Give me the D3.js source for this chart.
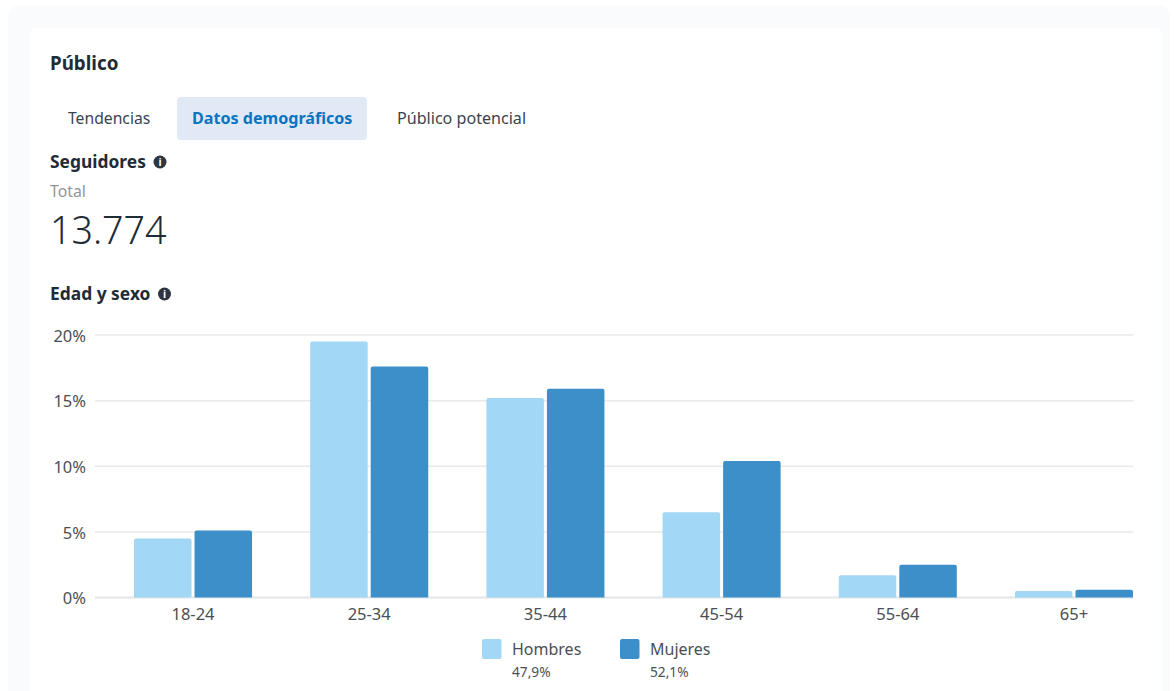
<!DOCTYPE html>
<html lang="es">
<head>
<meta charset="utf-8">
<title>Público</title>
<script src="https://cdn.jsdelivr.net/npm/d3@7"></script>
<style>
  html, body { margin: 0; padding: 0; background: #fff; }
  svg { display: block; font-family: "Noto Sans", "Open Sans", sans-serif; }
  .axis path, .axis line { display: none; }
  .axis text { font-size: 16.5px; fill: #4a4f54; font-family: "Noto Sans", sans-serif; }
</style>
</head>
<body>
<svg id="chart" width="1174" height="691"></svg>
<script>
// Age brackets and follower share per sex, in percent
const ageGroups = ["18-24", "25-34", "35-44", "45-54", "55-64", "65+"];
const menShare = [4.5, 19.5, 15.2, 6.5, 1.7, 0.5];
const womenShare = [5.1, 17.6, 15.9, 10.4, 2.5, 0.6];
const yTicks = [0, 5, 10, 15, 20];
const seriesNames = ["Hombres", "Mujeres"];
const seriesTotals = ["47,9%", "52,1%"];
const seriesColors = ["#a2d8f6", "#3c8fc8"];
const tabLabels = ["Tendencias", "Datos demográficos", "Público potencial"];
const totalFollowers = "13.774";

const svg = d3.select("#chart");

// Page backdrop and card
svg.append("rect").attr("x", 8).attr("y", 5).attr("width", 1162).attr("height", 700).attr("rx", 12).attr("fill", "#fafbfd");
svg.append("rect").attr("x", 30).attr("y", 28).attr("width", 1132).attr("height", 680).attr("rx", 5).attr("fill", "#fff");

const ink = "#1f2b36";
const addText = (x, y, str, size, weight, fill, anchor) => svg.append("text")
  .attr("x", x).attr("y", y).attr("font-size", size).attr("font-weight", weight)
  .attr("fill", fill).attr("text-anchor", anchor || "start").text(str);

// Small filled circle with an "i" cut in white
function infoIcon(cx, cy) {
  svg.append("circle").attr("cx", cx).attr("cy", cy).attr("r", 6.5).attr("fill", "#2b3640");
  svg.append("text").attr("x", cx).attr("y", cy + 4).attr("text-anchor", "middle")
    .attr("font-size", 10.5).attr("font-weight", 700).attr("fill", "#fff").text("i");
}

// Header and tabs
addText(50, 69.5, "Público", 18.8, 700, ink);
svg.append("rect").attr("x", 177).attr("y", 97).attr("width", 190).attr("height", 43).attr("rx", 4).attr("fill", "#e0e9f5");
addText(68, 124, tabLabels[0], 15.7, 400, "#3a444d");
addText(192, 124, tabLabels[1], 16.1, 700, "#0a74c0");
addText(397, 124, tabLabels[2], 16.1, 400, "#3a444d");

// Follower total
addText(50, 168, "Seguidores", 17.4, 700, ink);
infoIcon(160, 162);
addText(50, 197, "Total", 15.8, 400, "#929699");
addText(50, 244, totalFollowers, 37.6, 300, ink);

addText(50, 299.5, "Edad y sexo", 17.4, 700, ink);
infoIcon(164.5, 294);

// Scales
const x0 = d3.scaleBand().domain(ageGroups).range([134, 1133]).paddingInner(0.33).paddingOuter(0);
const x1 = d3.scaleBand().domain(seriesNames).range([0, x0.bandwidth()]).paddingInner(0.05);
const y = d3.scaleLinear().domain([0, 20]).range([597.5, 335]);

// Horizontal grid
svg.append("g").selectAll("line").data(yTicks).join("line")
  .attr("x1", 95).attr("x2", 1133)
  .attr("y1", d => y(d)).attr("y2", d => y(d))
  .attr("stroke", d => d === 0 ? "#e4e5e8" : "#e8e9eb")
  .attr("stroke-width", d => d === 0 ? 2 : 1.5);

// Axis labels
svg.append("g").attr("class", "axis").attr("transform", "translate(86,1)")
  .call(d3.axisLeft(y).tickValues(yTicks).tickFormat(d => d + "%").tickSize(0).tickPadding(0))
  .call(g => g.select(".domain").remove());
svg.append("g").attr("class", "axis").attr("transform", "translate(0,605)")
  .call(d3.axisBottom(x0).tickSize(0).tickPadding(3))
  .call(g => g.select(".domain").remove());

// Bars, with only the top corners rounded
const barPath = (bx, by, w) => {
  const r = Math.min(2, y(0) - by);
  return `M${bx},${y(0)}V${by + r}Q${bx},${by} ${bx + r},${by}H${bx + w - r}Q${bx + w},${by} ${bx + w},${by + r}V${y(0)}Z`;
};
[menShare, womenShare].forEach((values, i) => {
  svg.append("g").selectAll("path").data(values).join("path")
    .attr("fill", seriesColors[i])
    .attr("d", (d, k) => barPath(x0(ageGroups[k]) + x1(seriesNames[i]), y(d), x1.bandwidth()));
});

// Legend
const legendX = d3.scalePoint().domain(seriesNames).range([482, 620]);
seriesNames.forEach((name, i) => {
  const lx = legendX(name);
  svg.append("rect").attr("x", lx).attr("y", 639).attr("width", 19.5).attr("height", 20).attr("rx", 2).attr("fill", seriesColors[i]);
  addText(lx + 30, 655, name, 16, 400, "#4a4f54");
  addText(lx + 30, 677, seriesTotals[i], 13.7, 400, "#4a4f54");
});
</script>
</body>
</html>
